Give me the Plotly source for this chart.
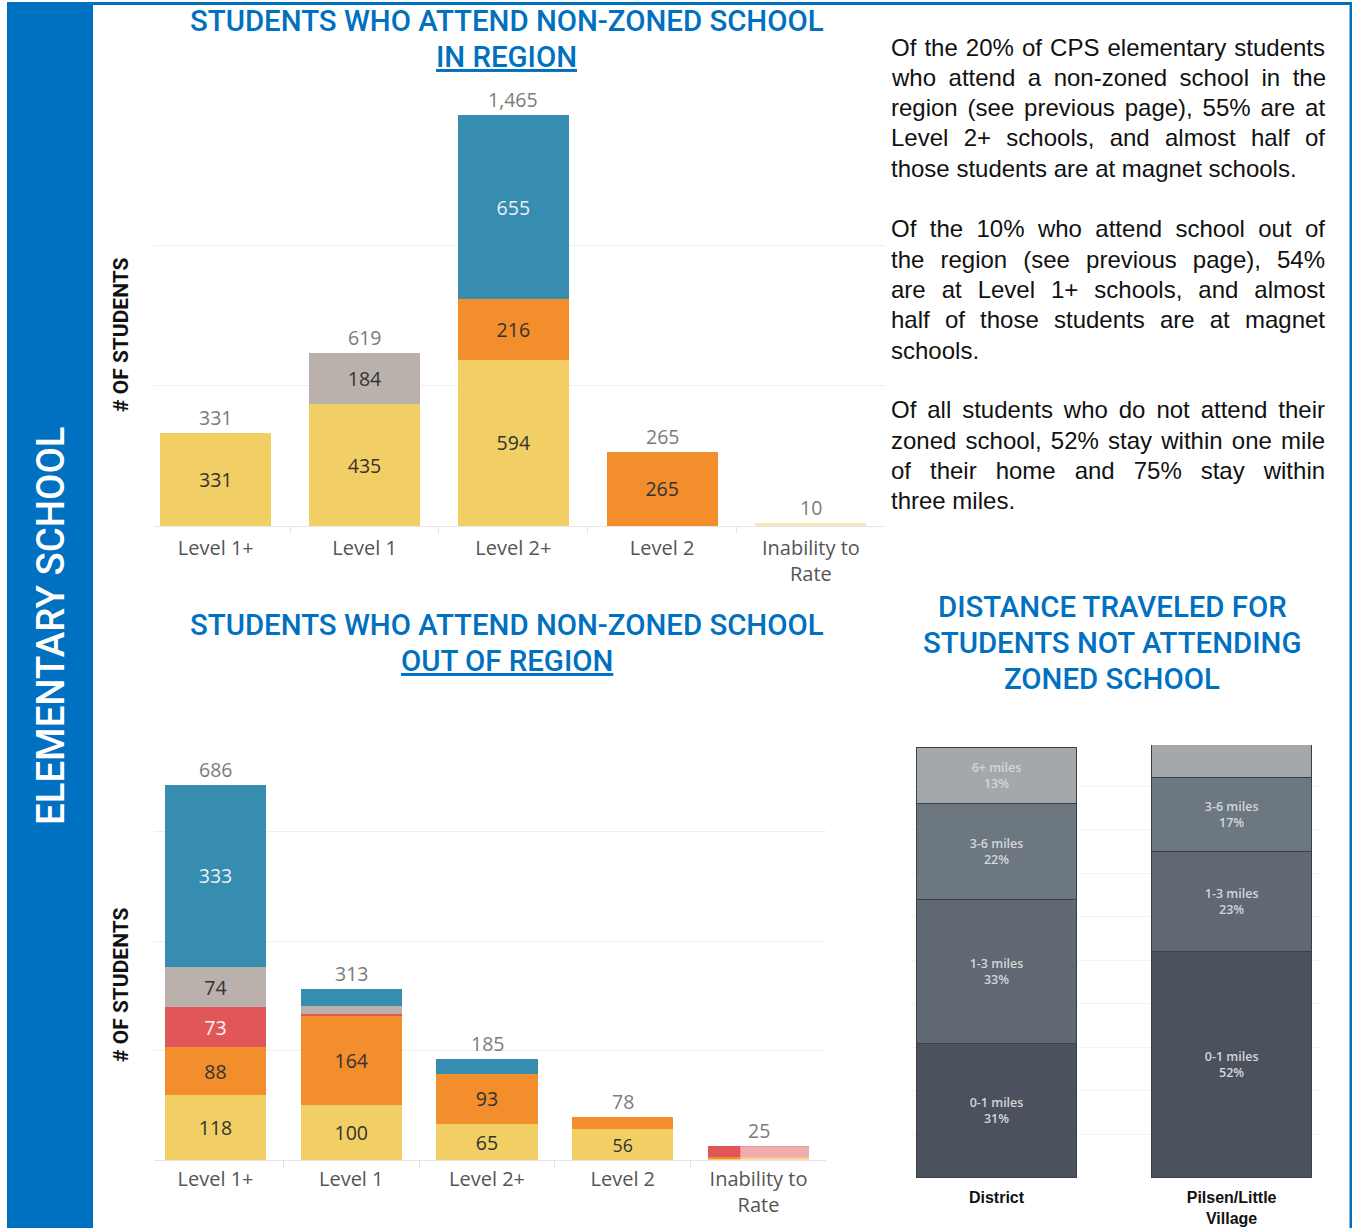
import plotly.graph_objects as go

W, H = 1353, 1228

# ---------------- data ----------------
levels = ["Level 1+", "Level 1", "Level 2+", "Level 2", "Inability to<br>Rate"]

series_names = ["Neighborhood", "Charter", "Contract", "Selective Enrollment", "Magnet"]
series_colors = ["#f2cf65", "#f28e2b", "#e15759", "#bab0ac", "#368db0"]
series_text_colors = ["#333333", "#333333", "#f4f4f4", "#333333", "#e8f1f6"]

# In region (students attending non-zoned school in region)
in_neighborhood = [331, 435, 594, 0, 10]
in_charter = [0, 0, 216, 265, 0]
in_contract = [0, 0, 0, 0, 0]
in_selective = [0, 184, 0, 0, 0]
in_magnet = [0, 0, 655, 0, 0]

# Out of region
out_neighborhood = [118, 100, 65, 56, 3]
out_charter = [88, 164, 93, 22, 2]
out_contract = [73, 2, 0, 0, 20]
out_selective = [74, 16, 0, 0, 0]
out_magnet = [333, 31, 27, 0, 0]

# Distance traveled (percent of students not attending zoned school)
areas = ["District", "Pilsen/Little<br>Village"]
distance_bands = ["0-1 miles", "1-3 miles", "3-6 miles", "6+ miles"]
distance_colors = ["#4b525e", "#5f6873", "#6c7780", "#a4a8ab"]
dist_0_1 = [31, 52]
dist_1_3 = [33, 23]
dist_3_6 = [22, 17]
dist_6_plus = [13, 8]

paragraphs = [
    ["Of the 20% of CPS elementary students",
     "who attend a non-zoned school in the",
     "region (see previous page), 55% are at",
     "Level 2+ schools, and almost half of",
     "those students are at magnet schools."],
    ["Of the 10% who attend school out of",
     "the region (see previous page), 54%",
     "are at Level 1+ schools, and almost",
     "half of those students are at magnet",
     "schools."],
    ["Of all students who do not attend their",
     "zoned school, 52% stay within one mile",
     "of their home and 75% stay within",
     "three miles."],
]

# ---------------- styling ----------------
BLUE = "#0070c0"
HEAD = "Roboto, Liberation Sans, sans-serif"
TAB = "Open Sans, Noto Sans, sans-serif"
BODY = "Liberation Sans, Arial, sans-serif"
BARGAP = 0.255
LABEL_MIN = 40


def px_x(p):
    return p / W


def px_y(p):
    return 1 - p / H


def fade(hexc, amt):
    hexc = hexc.lstrip("#")
    r, g, b = (int(hexc[i:i + 2], 16) for i in (0, 2, 4))
    r, g, b = (round(c + (255 - c) * amt) for c in (r, g, b))
    return f"#{r:02x}{g:02x}{b:02x}"


fig = go.Figure()
ann = []

in_series = [in_neighborhood, in_charter, in_contract, in_selective, in_magnet]
out_series = [out_neighborhood, out_charter, out_contract, out_selective, out_magnet]


def add_stack(series, xa, ya, faded_last):
    for name, vals, col, tcol in zip(series_names, series, series_colors, series_text_colors):
        colors = [col] * len(vals)
        if faded_last:
            colors[-1] = fade(col, 0.5)
        fig.add_trace(go.Bar(
            x=levels, y=vals, name=name, xaxis=xa, yaxis=ya,
            marker=dict(color=colors, line=dict(width=0)),
            text=[str(v) if v >= LABEL_MIN else "" for v in vals],
            textposition="inside", insidetextanchor="middle", textangle=0,
            textfont=dict(family=TAB, size=19.5, color=tcol),
            hovertemplate=name + ": %{y}<extra></extra>",
        ))
    totals = [sum(v) for v in zip(*series)]
    for lvl, t in zip(levels, totals):
        ann.append(dict(x=lvl, y=t, xref=xa, yref=ya, text=f"{t:,}", showarrow=False,
                        xanchor="center", yanchor="bottom", yshift=0,
                        font=dict(family=TAB, size=19.5, color="#7b7b7b")))
    return totals


add_stack(in_series, "x", "y", True)
out_totals = add_stack(out_series, "x2", "y2", False)

# distance chart
dist_series = [dist_0_1, dist_1_3, dist_3_6, dist_6_plus]
for band, vals, col in zip(distance_bands, dist_series, distance_colors):
    fig.add_trace(go.Bar(
        x=areas, y=vals, name=band, xaxis="x3", yaxis="y3", width=0.681,
        marker=dict(color=col, line=dict(color="#394049", width=1.2)),
        text=[f"{band}<br>{v}%" if v >= 10 else "" for v in vals],
        textposition="inside", insidetextanchor="middle", textangle=0,
        textfont=dict(family=TAB, size=12.5, color="#d3d6da", weight=600),
        hovertemplate=band + ": %{y}%<extra></extra>",
    ))

# ---------------- axes ----------------
tickfont = dict(family=TAB, size=20, color="#555555")
fig.update_layout(
    width=W, height=H, margin=dict(l=0, r=0, t=0, b=0),
    paper_bgcolor="white", plot_bgcolor="white",
    barmode="stack", bargap=BARGAP, showlegend=False,
    xaxis=dict(domain=[px_x(154), px_x(885)], range=[-0.415, 4.498], type="category",
               tickson="boundaries", ticks="outside", ticklen=7, tickcolor="#e4e4e4",
               showgrid=False, showline=False, tickfont=tickfont, anchor="y",
               ticklabelstandoff=8, fixedrange=True),
    yaxis=dict(domain=[px_y(526), px_y(105)], range=[0, 1502], dtick=500,
               gridcolor="#efefef", showticklabels=False, zeroline=True,
               zerolinecolor="#e6e6e6", zerolinewidth=1, anchor="x", fixedrange=True),
    xaxis2=dict(domain=[px_x(154), px_x(826)], range=[-0.453, 4.497], type="category",
                tickson="boundaries", ticks="outside", ticklen=7, tickcolor="#e4e4e4",
                showgrid=False, showline=False, tickfont=tickfont, anchor="y2",
                ticklabelstandoff=5, fixedrange=True),
    yaxis2=dict(domain=[px_y(1160), px_y(777)], range=[0, 700], dtick=200,
                gridcolor="#efefef", showticklabels=False, zeroline=True,
                zerolinecolor="#e6e6e6", zerolinewidth=1, anchor="x2", fixedrange=True),
    xaxis3=dict(domain=[px_x(910), px_x(1320)], range=[-0.368, 1.376], type="category",
                showgrid=False, showline=False, ticks="",
                tickfont=dict(family=BODY, size=16, color="#111111", weight="bold"),
                ticklabelstandoff=8, anchor="y3", fixedrange=True),
    yaxis3=dict(domain=[px_y(1178), px_y(745)], range=[0, 99.5], dtick=10,
                gridcolor="#f3f3f3", showticklabels=False, zeroline=False,
                anchor="x3", fixedrange=True),
)

# ---------------- page decorations ----------------
shapes = [
    dict(type="rect", xref="paper", yref="paper", x0=px_x(7), x1=px_x(93), y0=0, y1=px_y(2),
         fillcolor=BLUE, line=dict(width=0), layer="below"),
    dict(type="rect", xref="paper", yref="paper", x0=px_x(7), x1=px_x(1352), y0=px_y(5), y1=px_y(2),
         fillcolor=BLUE, line=dict(width=0), layer="below"),
    dict(type="rect", xref="paper", yref="paper", x0=px_x(1349.5), x1=px_x(1352), y0=0, y1=px_y(2),
         fillcolor=BLUE, line=dict(width=0), layer="below"),
]
# faded (highlight) overlay on the right part of the out-of-region "Inability to Rate" bar
half = (1 - BARGAP) / 2
idx = len(levels) - 1
shapes.append(dict(type="rect", xref="x2", yref="y2",
                   x0=idx - half + 0.32 * 2 * half, x1=idx + half, y0=0, y1=out_totals[idx],
                   fillcolor="rgba(255,255,255,0.5)", line=dict(width=0), layer="above"))
fig.update_layout(shapes=shapes)


def title(text, xc, yc, size=29.4):
    ann.append(dict(text=text, x=px_x(xc), y=px_y(yc), xref="paper", yref="paper",
                    xanchor="center", yanchor="middle", showarrow=False,
                    font=dict(family=HEAD, size=size, color=BLUE, weight=500)))


title("STUDENTS WHO ATTEND NON-ZONED SCHOOL", 507, 21)
title("<u>IN REGION</u>", 507, 57)
title("STUDENTS WHO ATTEND NON-ZONED SCHOOL", 507, 625)
title("<u>OUT OF REGION</u>", 507, 661)
title("DISTANCE TRAVELED FOR", 1112, 607)
title("STUDENTS NOT ATTENDING", 1112, 643)
title("ZONED SCHOOL", 1112, 679)

ann.append(dict(text="ELEMENTARY SCHOOL", x=px_x(50), y=px_y(626), xref="paper", yref="paper",
                xanchor="center", yanchor="middle", showarrow=False, textangle=-90,
                font=dict(family=HEAD, size=38.4, color="white", weight=500)))
for yc in (335, 985):
    ann.append(dict(text="# OF STUDENTS", x=px_x(121), y=px_y(yc), xref="paper", yref="paper",
                    xanchor="center", yanchor="middle", showarrow=False, textangle=-90,
                    font=dict(family=HEAD, size=21, color="#111111", weight="bold")))

# justified paragraph text (Arial / Liberation Sans metrics)
AW = {' ': 278, '%': 889, '(': 333, ')': 333, '+': 584, ',': 278, '-': 333, '.': 278,
      'C': 722, 'L': 556, 'O': 778, 'P': 667, 'S': 667,
      'a': 556, 'b': 556, 'c': 500, 'd': 556, 'e': 556, 'f': 278, 'g': 556, 'h': 556,
      'i': 222, 'j': 222, 'k': 500, 'l': 222, 'm': 833, 'n': 556, 'o': 556, 'p': 556,
      'q': 556, 'r': 333, 's': 500, 't': 278, 'u': 556, 'v': 500, 'w': 722, 'x': 500,
      'y': 500, 'z': 500}
for d in "0123456789":
    AW[d] = 556
FS = 24
X_LEFT, X_RIGHT = 889, 1323
para_tops = [47, 229, 410]
LINE_STEP = 30.3
for lines, top in zip(paragraphs, para_tops):
    for i, line in enumerate(lines):
        txt = line
        if i < len(lines) - 1:
            natural = sum(AW.get(c, 556) for c in line) * FS / 1000
            ws = (X_RIGHT - X_LEFT - natural) / line.count(" ")
            txt = f'<span style="word-spacing:{ws:.2f}px">{line}</span>'
        ann.append(dict(text=txt, x=px_x(X_LEFT), y=px_y(top + i * LINE_STEP),
                        xref="paper", yref="paper", xanchor="left", yanchor="middle",
                        showarrow=False, font=dict(family=BODY, size=FS, color="#111111")))

fig.update_layout(annotations=ann)
fig.write_html("out.html", post_script="document.body.style.margin='0';",
               config={"displayModeBar": False})
